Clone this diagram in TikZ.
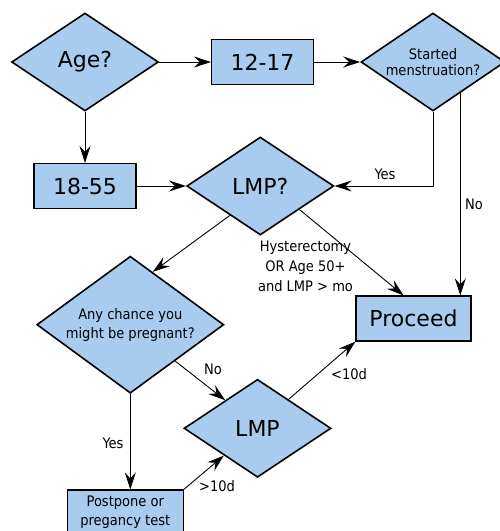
\documentclass[tikz,border=0pt]{standalone}
\usepackage{fontspec}
\setmainfont{DejaVu Sans}
\newfontfamily\condfont{DejaVu Sans Condensed}
\usetikzlibrary{shapes.geometric,arrows.meta,calc}
\definecolor{boxblue}{RGB}{168,203,238}
\tikzset{
  decision/.style={diamond, draw, line width=1.6pt, fill=boxblue, inner sep=0pt,
    aspect=1.5, minimum width=147pt, minimum height=98pt, align=center},
  block/.style={rectangle, draw, line width=1.2pt, fill=boxblue,
    minimum width=102pt, minimum height=45pt, align=center},
  big/.style={font=\fontsize{22}{26}\selectfont},
  small/.style={font=\condfont\fontsize{14.5}{19}\selectfont, align=center},
  flow/.style={line width=0.9pt, -{Stealth[length=17pt,width=11pt,inset=6pt]}},
}
\begin{document}
\begin{tikzpicture}[x=1pt,y=-1pt]
  \useasboundingbox (0,0) rectangle (500,531);

  % boxes and questions
  \node[decision, big] (age) at (85,62) {Age?};
  \node[block, big] (teen) at (262.5,62) {12-17};
  \node[decision, small, font=\condfont\fontsize{14.5}{16}\selectfont,
    minimum width=144pt] (started) at (433,62) {Started\\menstruation?};
  \node[block, big] (adult) at (85,186) {18-55};
  \node[decision, big] (lmpq) at (260.3,186) {LMP?};
  \node[decision, small, minimum width=187pt, minimum height=137pt] (chance)
    at (130.3,324.7) {Any chance you\\might be pregnant?};
  \node[block, big, minimum width=115pt] (proceed) at (413.5,318.5) {Proceed};
  \node[decision, big] (lmp) at (257.5,428.3) {LMP};
  \node[block, small, minimum width=116pt] (postpone) at (125.3,512.5)
    {Postpone or\\pregancy test};

  % connectors
  \draw[flow] (age) -- (teen);
  \draw[flow] (teen) -- (started);
  \draw[flow] (age) -- (adult);
  \draw[flow] (adult) -- (lmpq);
  \draw[flow] (started.south) |- (lmpq.east);
  \coordinate (nostart) at ($(started.east)!0.625!(started.south)$);
  \draw[flow] (nostart) -- (nostart |- proceed.north);
  \draw[flow] (lmpq.224) -- (chance.67);
  \draw[flow] (lmpq.-31) -- ([xshift=-10pt]proceed.north);
  \draw[flow] (chance.-39) -- (lmp.139);
  \draw[flow] (chance.south) -- (chance.south |- postpone.north);
  \draw[flow] (postpone.north east) -- (lmp.219);
  \draw[flow] (lmp.43) -- (proceed.south west);

  % labels
  \node[small] (yesmen) at (385,174) {Yes};
  \node[small] (nomen) at (474,204) {No};
  \node[small, font=\condfont\fontsize{14.5}{20}\selectfont] (hyst)
    at (305.5,266) {Hysterectomy\\OR Age 50+\\and LMP > mo};
  \node[small] (nopreg) at (213,369.5) {No};
  \node[small] (short) at (349,374.5) {<10d};
  \node[small] (yespreg) at (113,443) {Yes};
  \node[small] (long) at (217,486) {>10d};
\end{tikzpicture}
\end{document}
